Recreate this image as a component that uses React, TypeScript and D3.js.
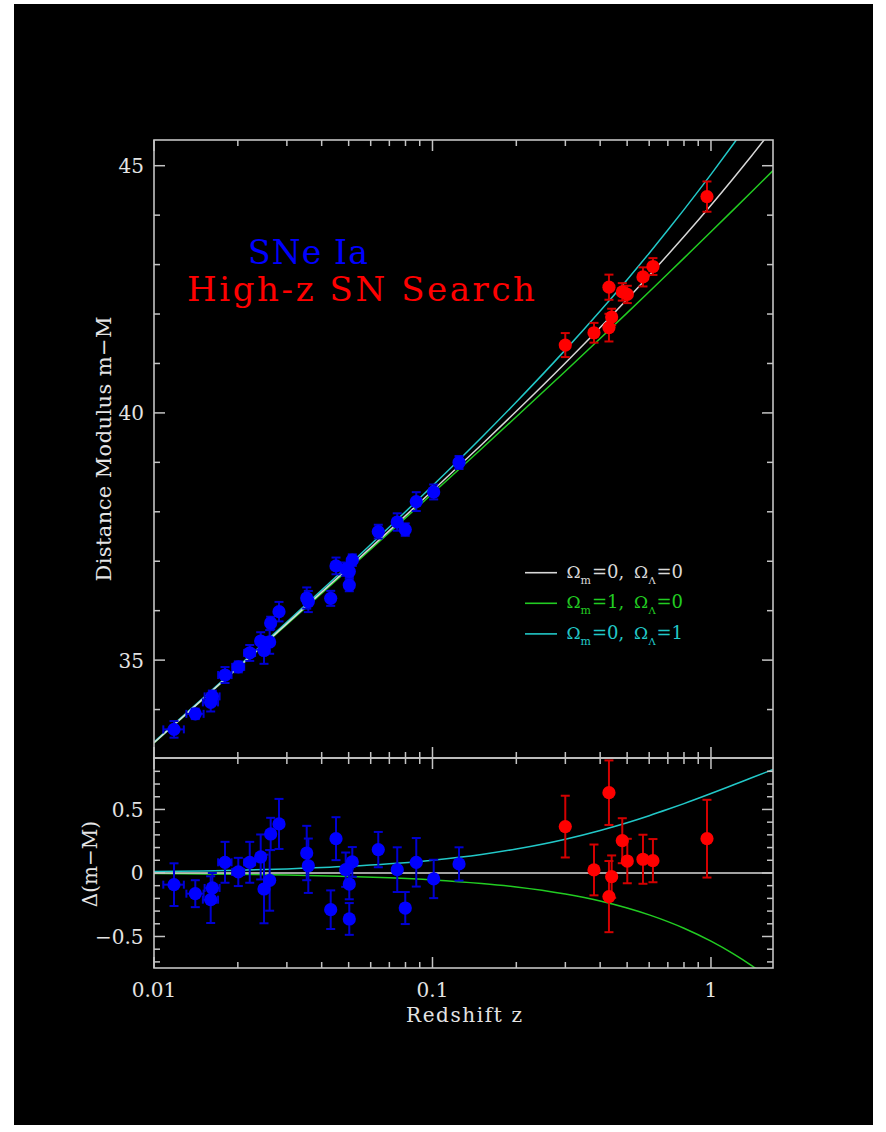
import React from 'react';
import * as d3 from 'd3';

const W = 886;
const H = 1132;

// ---------- data ----------
// low-z supernovae (blue)
const blueZ = [0.01180, 0.01407, 0.01620, 0.01598, 0.01799, 0.02008, 0.02207, 0.02416, 0.02483, 0.02602, 0.02624, 0.02811, 0.03535, 0.03582, 0.04310, 0.04503, 0.04879, 0.05153, 0.05026, 0.05026, 0.06388, 0.07472, 0.07984, 0.08745, 0.10100, 0.12454];
const blueMu = [33.599, 33.913, 34.266, 34.145, 34.698, 34.863, 35.145, 35.387, 35.195, 35.367, 35.750, 35.980, 36.256, 36.185, 36.249, 36.905, 36.840, 37.022, 36.793, 36.518, 37.599, 37.793, 37.640, 38.206, 38.401, 38.997];
const blueDmu = [-0.092, -0.163, -0.118, -0.210, 0.084, 0.008, 0.084, 0.126, -0.126, -0.058, 0.307, 0.386, 0.157, 0.057, -0.289, 0.270, 0.026, 0.087, -0.087, -0.362, 0.184, 0.026, -0.276, 0.084, -0.047, 0.071];
const blueErr = [0.168, 0.106, 0.118, 0.184, 0.161, 0.111, 0.161, 0.177, 0.270, 0.239, 0.127, 0.197, 0.214, 0.214, 0.152, 0.169, 0.135, 0.117, 0.120, 0.125, 0.139, 0.176, 0.126, 0.191, 0.151, 0.131];
const blueZErr = [0.001, 0.001, 0.001, 0.001, 0.001, 0.001, 0.001, 0, 0, 0, 0, 0, 0, 0, 0, 0, 0, 0, 0, 0, 0, 0, 0, 0, 0, 0];

// High-z SN Search (red)
const redZ = [0.2998, 0.3801, 0.4302, 0.4302, 0.4399, 0.4803, 0.5006, 0.5699, 0.6189, 0.9675];
const redMu = [41.372, 41.621, 42.543, 41.725, 41.940, 42.448, 42.396, 42.751, 42.961, 44.375];
const redDmu = [0.365, 0.024, 0.632, -0.186, -0.029, 0.254, 0.094, 0.108, 0.097, 0.270];
const redErr = [0.243, 0.200, 0.254, 0.280, 0.167, 0.177, 0.175, 0.193, 0.170, 0.306];

// model curves, sampled
const curveZ = [0.01, 0.015, 0.02, 0.03, 0.05, 0.07, 0.1, 0.15, 0.2, 0.3, 0.4, 0.5, 0.6, 0.7, 0.8, 1.0, 1.2, 1.4, 1.67];
const muEmpty = [33.330, 34.216, 34.846, 35.737, 36.868, 37.620, 38.425, 39.357, 40.032, 41.009, 41.726, 42.299, 42.780, 43.197, 43.566, 44.200, 44.736, 45.202, 45.751];
const muMatter = [33.325, 34.208, 34.835, 35.721, 36.841, 37.582, 38.370, 39.274, 39.922, 40.843, 41.505, 42.023, 42.450, 42.814, 43.131, 43.663, 44.101, 44.473, 44.901];
const muLambda = [33.341, 34.232, 34.867, 35.769, 36.920, 37.692, 38.526, 39.503, 40.221, 41.275, 42.061, 42.695, 43.231, 43.698, 44.112, 44.825, 45.428, 45.951, 46.565];
const dEmpty = [0, 0, 0, 0, 0, 0, 0, 0, 0, 0, 0, 0, 0, 0, 0, 0, 0, 0, 0];
const dMatter = [-0.005, -0.008, -0.011, -0.016, -0.027, -0.038, -0.055, -0.083, -0.110, -0.166, -0.221, -0.276, -0.330, -0.383, -0.435, -0.537, -0.635, -0.729, -0.850];
const dLambda = [0.011, 0.016, 0.021, 0.032, 0.052, 0.072, 0.101, 0.146, 0.189, 0.266, 0.335, 0.396, 0.451, 0.501, 0.546, 0.625, 0.692, 0.749, 0.814];

// ticks
const xMajorTicks = [0.01, 0.1, 1];
const xMajorLabels = ['0.01', '0.1', '1'];
const yTopMajor = [35, 40, 45];
const yTopLabels = ['35', '40', '45'];
const yTopMinor = [34, 35, 36, 37, 38, 39, 40, 41, 42, 43, 44, 45];
const yBotMajor = [-0.5, 0, 0.5];
const yBotLabels = ['\u22120.5', '0', '0.5'];
const yBotMinor = [-0.7, -0.6, -0.5, -0.4, -0.3, -0.2, -0.1, 0, 0.1, 0.2, 0.3, 0.4, 0.5, 0.6, 0.7, 0.8];

const legendColors = ['#d8d8d8', '#22cc22', '#22c8c8'];
const legendM = ['0', '1', '0'];
const legendL = ['0', '0', '1'];

const FONT = '"DejaVu Serif", serif';

export default function App() {
  const L = 154, R = 773, T = 140, MID = 758, B = 968;
  const x = d3.scaleLog().domain([0.01, 1.67]).range([L, R]);
  const yTop = d3.scaleLinear().domain([33.02, 45.52]).range([MID, T]);
  const yBot = d3.scaleLinear().domain([-0.748, 0.905]).range([B, MID]);
  const xTicks = x.ticks().filter((t) => t >= 0.01 && t <= 1.67);
  const isMajorX = (t: number) => xMajorTicks.some((m) => Math.abs(m - t) / m < 1e-6);

  const mk = (ys: number[], ysc: any) =>
    d3.line<number>().x((_, i) => x(curveZ[i])).y((d) => ysc(d)).curve(d3.curveMonotoneX)(ys) || '';

  const frame = '#c4c4c4';
  const txt = '#e4e4e4';
  const MAJ = 11, MIN = 6;

  const errBars = (
    zs: number[], ys: number[], es: number[], zes: number[] | null, ysc: any, color: string, key: string
  ) =>
    zs.map((z, i) => {
      const cx = x(z);
      const y1 = ysc(ys[i] - es[i]);
      const y2 = ysc(ys[i] + es[i]);
      const parts = [
        <line key="v" x1={cx} x2={cx} y1={y1} y2={y2} />,
        <line key="c1" x1={cx - 4.5} x2={cx + 4.5} y1={y1} y2={y1} />,
        <line key="c2" x1={cx - 4.5} x2={cx + 4.5} y1={y2} y2={y2} />,
      ];
      if (zes && zes[i] > 0) {
        const xa = x(z - zes[i]);
        const xb = x(z + zes[i]);
        const cy = ysc(ys[i]);
        parts.push(<line key="h" x1={xa} x2={xb} y1={cy} y2={cy} />);
        parts.push(<line key="h1" x1={xa} x2={xa} y1={cy - 4} y2={cy + 4} />);
        parts.push(<line key="h2" x1={xb} x2={xb} y1={cy - 4} y2={cy + 4} />);
      }
      return (
        <g key={key + i} stroke={color} strokeWidth={2}>
          {parts}
        </g>
      );
    });

  const dots = (zs: number[], ys: number[], ysc: any, color: string, key: string) =>
    zs.map((z, i) => <circle key={key + i} cx={x(z)} cy={ysc(ys[i])} r={6.6} fill={color} />);

  return (
    <svg width={W} height={H} style={{ position: 'absolute', left: 0, top: 0 }} xmlns="http://www.w3.org/2000/svg">
      <rect x={0} y={0} width={W} height={H} fill="#ffffff" />
      <rect x={14} y={4} width={859} height={1121} fill="#000000" />
      <defs>
        <clipPath id="clipTop">
          <rect x={L} y={T} width={R - L} height={MID - T} />
        </clipPath>
        <clipPath id="clipBot">
          <rect x={L} y={MID} width={R - L} height={B - MID} />
        </clipPath>
      </defs>

      {/* curves upper */}
      <g clipPath="url(#clipTop)" fill="none" strokeWidth={1.5}>
        <path d={mk(muMatter, yTop)} stroke={legendColors[1]} />
        <path d={mk(muLambda, yTop)} stroke={legendColors[2]} />
        <path d={mk(muEmpty, yTop)} stroke={legendColors[0]} />
      </g>
      {/* curves lower */}
      <g clipPath="url(#clipBot)" fill="none" strokeWidth={1.5}>
        <path d={mk(dMatter, yBot)} stroke={legendColors[1]} />
        <path d={mk(dLambda, yBot)} stroke={legendColors[2]} />
        <path d={mk(dEmpty, yBot)} stroke={legendColors[0]} />
      </g>

      {/* data upper */}
      <g clipPath="url(#clipTop)">
        {errBars(blueZ, blueMu, blueErr, blueZErr, yTop, '#0000d4', 'bu')}
        {errBars(redZ, redMu, redErr, null, yTop, '#d40000', 'ru')}
        {dots(blueZ, blueMu, yTop, '#0000ff', 'bd')}
        {dots(redZ, redMu, yTop, '#ff0000', 'rd')}
      </g>
      {/* data lower */}
      <g clipPath="url(#clipBot)">
        {errBars(blueZ, blueDmu, blueErr, blueZErr, yBot, '#0000d4', 'bl')}
        {errBars(redZ, redDmu, redErr, null, yBot, '#d40000', 'rl')}
        {dots(blueZ, blueDmu, yBot, '#0000ff', 'bdl')}
        {dots(redZ, redDmu, yBot, '#ff0000', 'rdl')}
      </g>

      {/* frames */}
      <g fill="none" stroke={frame} strokeWidth={1.6}>
        <rect x={L} y={T} width={R - L} height={MID - T} />
        <rect x={L} y={MID} width={R - L} height={B - MID} />
      </g>

      {/* ticks */}
      <g stroke={frame} strokeWidth={1.5}>
        {xTicks.map((t, i) => {
          const len = isMajorX(t) ? MAJ : MIN;
          const xx = x(t);
          return (
            <g key={'xt' + i}>
              <line x1={xx} x2={xx} y1={T} y2={T + len} />
              <line x1={xx} x2={xx} y1={MID} y2={MID - len} />
              <line x1={xx} x2={xx} y1={MID} y2={MID + len} />
              <line x1={xx} x2={xx} y1={B} y2={B - len} />
            </g>
          );
        })}
        {yTopMinor.map((t, i) => {
          const len = yTopMajor.includes(t) ? MAJ : MIN;
          const yy = yTop(t);
          return (
            <g key={'yt' + i}>
              <line x1={L} x2={L + len} y1={yy} y2={yy} />
              <line x1={R} x2={R - len} y1={yy} y2={yy} />
            </g>
          );
        })}
        {yBotMinor.map((t, i) => {
          const len = yBotMajor.some((m) => Math.abs(m - t) < 1e-9) ? MAJ : MIN;
          const yy = yBot(t);
          return (
            <g key={'yb' + i}>
              <line x1={L} x2={L + len} y1={yy} y2={yy} />
              <line x1={R} x2={R - len} y1={yy} y2={yy} />
            </g>
          );
        })}
      </g>

      {/* tick labels */}
      <g fill={txt} fontFamily={FONT} fontSize={20}>
        {yTopMajor.map((t, i) => (
          <text key={'ytl' + i} x={144} y={yTop(t) + 7.4} textAnchor="end">
            {yTopLabels[i]}
          </text>
        ))}
        {yBotMajor.map((t, i) => (
          <text key={'ybl' + i} x={143.5} y={yBot(t) + 7.4} textAnchor="end">
            {yBotLabels[i]}
          </text>
        ))}
        {xMajorTicks.map((t, i) => (
          <text key={'xtl' + i} x={x(t)} y={996.7} textAnchor="middle">
            {xMajorLabels[i]}
          </text>
        ))}
        <text x={406} y={1021.5} textLength={116} lengthAdjust="spacing">
          Redshift z
        </text>
        <text transform="translate(111,449) rotate(-90)" textAnchor="middle" fontSize={21} textLength={265} lengthAdjust="spacing">
          Distance Modulus m{'\u2212'}M
        </text>
        <text transform="translate(97,864) rotate(-90)" textAnchor="middle">
          {'\u0394(m\u2212M)'}
        </text>
      </g>

      {/* titles */}
      <g fontFamily={FONT}>
        <text x={248} y={264} fontSize={33} fill="#0000ff" textLength={120} lengthAdjust="spacing">
          SNe Ia
        </text>
        <text x={187} y={301} fontSize={34} fill="#ff0000" textLength={348} lengthAdjust="spacing">
          High-z SN Search
        </text>
      </g>

      {/* legend */}
      <g fontFamily={FONT}>
        {legendColors.map((c, i) => {
          const ly = 572.7 + i * 30.6;
          const by = ly + 5;
          return (
            <g key={'lg' + i} fill={c}>
              <line x1={525} x2={557} y1={ly} y2={ly} stroke={c} strokeWidth={1.6} />
              <text x={566.5} y={by} fontSize={17}>{'\u03A9'}</text>
              <text x={580.5} y={by + 6} fontSize={11}>m</text>
              <text x={592} y={by} fontSize={18}>{'=' + legendM[i] + ','}</text>
              <text x={634} y={by} fontSize={17}>{'\u03A9'}</text>
              <text x={648.5} y={by + 6} fontSize={10}>{'\u039B'}</text>
              <text x={656.5} y={by} fontSize={18}>{'=' + legendL[i]}</text>
            </g>
          );
        })}
      </g>
    </svg>
  );
}
